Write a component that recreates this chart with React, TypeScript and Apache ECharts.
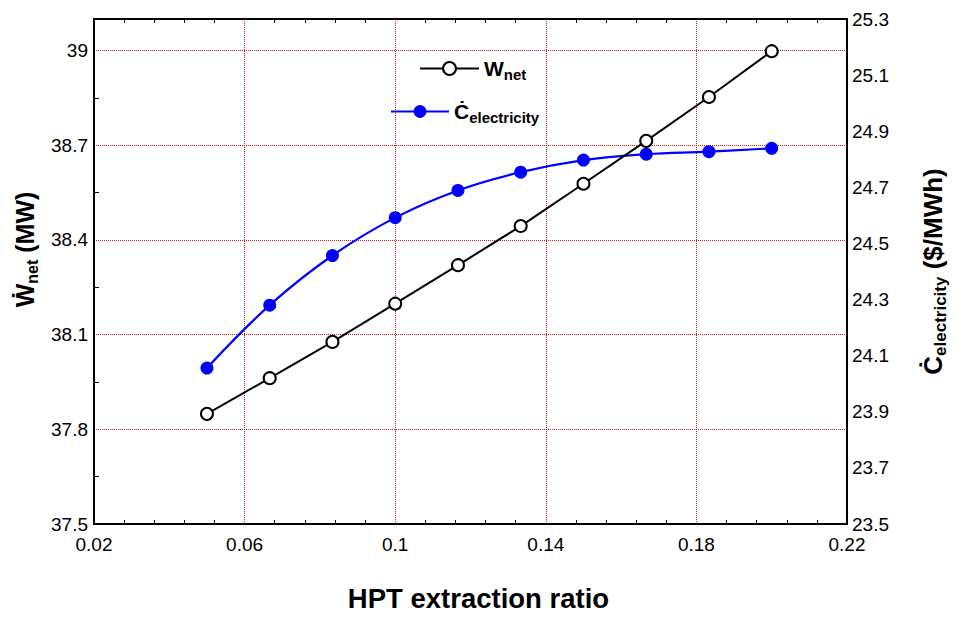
import React, { useEffect, useRef } from "react";
import * as echarts from "echarts";

const extractionRatio = [0.05, 0.06667, 0.08333, 0.1, 0.11667, 0.13333, 0.15, 0.16667, 0.18333, 0.2];
const wNet = [37.849, 37.962, 38.077, 38.198, 38.32, 38.444, 38.578, 38.714, 38.853, 38.998];
const cElectricity = [24.056, 24.28, 24.457, 24.592, 24.689, 24.754, 24.797, 24.818, 24.827, 24.839];

const FONT = "'Liberation Sans', Arial, sans-serif";
const GRID_RED = "#c01818";

const richTitle = (big: number, small: number) => ({
  m: { fontSize: big, fontWeight: "bold", color: "#000", fontFamily: FONT, verticalAlign: "bottom" },
  s: { fontSize: small, fontWeight: "bold", color: "#000", fontFamily: FONT, verticalAlign: "bottom", padding: [0, 0, -3, 0] },
});

const HIDDEN_TICK = { show: true, inside: true, length: 4, lineStyle: { color: "rgba(0,0,0,0)" } };

export default function App() {
  const ref = useRef<HTMLDivElement>(null);
  useEffect(() => {
    document.body.style.margin = "0";
    if (!ref.current) return;
    const chart = echarts.init(ref.current, null, { renderer: "svg" });
    const pairs = (ys: number[]) => extractionRatio.map((x, i) => [x, ys[i]]);
    const gridLine = { show: true, showMinLine: false, showMaxLine: false, lineStyle: { color: GRID_RED, type: [1, 1], width: 1 } };
    chart.setOption({
      animation: false,
      backgroundColor: "#fff",
      textStyle: { fontFamily: FONT },
      grid: { left: 94, right: 104, top: 19, bottom: 89, show: true, borderColor: "#000", borderWidth: 2, backgroundColor: "transparent", z: 10 },
      legend: [
        {
          data: ["W"], left: 419, top: 58, padding: 0, itemWidth: 59, itemHeight: 16, itemGap: 2,
          formatter: () => "{m|W}{s|net}",
          textStyle: { rich: richTitle(21, 15) },
        },
        {
          data: ["C"], left: 390, top: 101, padding: 0, itemWidth: 58, itemHeight: 16, itemGap: 2,
          formatter: () => "{m|Ċ}{s|electricity}",
          textStyle: { rich: richTitle(21, 15) },
        },
      ],
      xAxis: [
        {
          type: "value", min: 0.02, max: 0.22, interval: 0.04, position: "bottom",
          axisLine: { show: false },
          axisTick: HIDDEN_TICK,
          minorTick: { show: true, splitNumber: 5, length: 4, lineStyle: { color: "#000", width: 1 } },
          splitLine: gridLine,
          axisLabel: { fontSize: 19, color: "#000", fontFamily: FONT, margin: 11, formatter: (v: number) => String(Number(v.toFixed(2))) },
          name: "HPT extraction ratio", nameLocation: "middle", nameGap: 60,
          nameTextStyle: { fontSize: 27.5, fontWeight: "bold", color: "#000", fontFamily: FONT, padding: [0, 0, 0, 16] },
        },
        {
          type: "value", min: 0.02, max: 0.22, interval: 0.04, position: "top",
          axisLine: { show: false },
          axisTick: HIDDEN_TICK,
          minorTick: { show: true, splitNumber: 5, length: 4, lineStyle: { color: "#000", width: 1 } },
          splitLine: { show: false },
          axisLabel: { show: false },
        },
      ],
      yAxis: [
        {
          type: "value", min: 37.5, max: 39.1, interval: 0.3, position: "left",
          axisLine: { show: false },
          axisTick: HIDDEN_TICK,
          minorTick: { show: true, splitNumber: 2, length: 5, lineStyle: { color: "#000", width: 1 } },
          splitLine: gridLine,
          axisLabel: { fontSize: 19, color: "#000", fontFamily: FONT, margin: 6, showMaxLabel: false, formatter: (v: number) => String(Number(v.toFixed(1))) },
          name: "{m|Ẇ}{s|net}{m| (MW)}", nameLocation: "middle", nameGap: 50, nameRotate: 90,
          nameTextStyle: { rich: richTitle(25, 16), padding: [0, 0, 0, 44] },
        },
        {
          type: "value", min: 23.5, max: 25.3, interval: 0.2, position: "right",
          axisLine: { show: false },
          axisTick: { show: false },
          splitLine: { show: false },
          axisLabel: { fontSize: 19, color: "#000", fontFamily: FONT, margin: 5, formatter: (v: number) => v.toFixed(1) },
          name: "{m|Ċ}{s|electricity}{m| ($/MWh)}", nameLocation: "middle", nameGap: 73, nameRotate: 90,
          nameTextStyle: { rich: richTitle(26, 17) },
        },
      ],
      series: [
        {
          name: "W", type: "line", xAxisIndex: 0, yAxisIndex: 0, data: pairs(wNet),
          symbol: "emptyCircle", symbolSize: 12,
          itemStyle: { color: "#000", borderColor: "#000", borderWidth: 1.2 },
          lineStyle: { color: "#000", width: 2 },
          z: 3,
        },
        {
          name: "C", type: "line", xAxisIndex: 0, yAxisIndex: 1, data: pairs(cElectricity),
          symbol: "circle", symbolSize: 13, smooth: 0.4,
          itemStyle: { color: "#0000ff" },
          lineStyle: { color: "#0000ff", width: 2.2 },
          z: 2,
        },
      ],
    });
    return () => chart.dispose();
  }, []);
  return <div ref={ref} style={{ width: 957, height: 617 }} />;
}
